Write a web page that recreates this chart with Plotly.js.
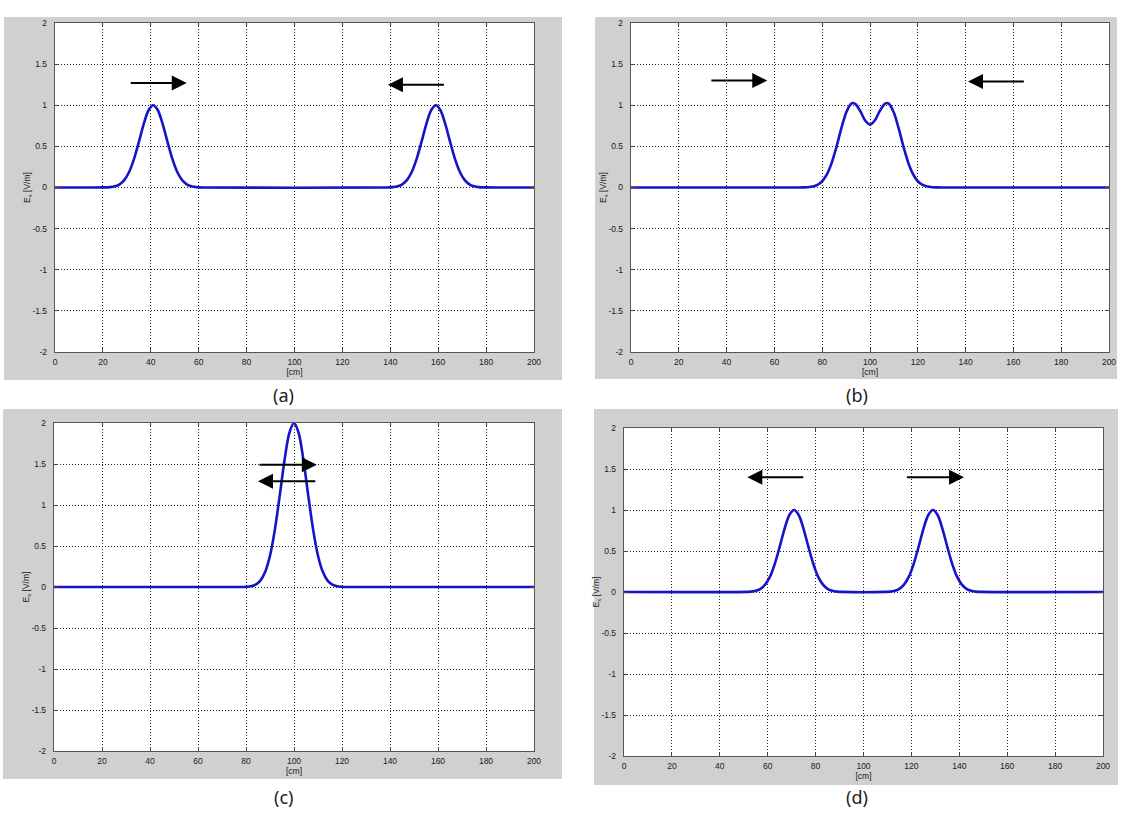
<!DOCTYPE html>
<html>
<head>
<meta charset="utf-8">
<script src="https://cdn.plot.ly/plotly-3.0.1.min.js"></script>
<style>html,body{margin:0;padding:0;background:#fff;}#chart{width:1123px;height:814px;}</style>
</head>
<body>
<div id="chart"></div>
<script>
// ---------- data ----------
var panelLabels = ["(a)", "(b)", "(c)", "(d)"];
var yTitle = "E<sub>x</sub> [V/m]";
var xTitle = "[cm]";
var xTickVals = [0, 20, 40, 60, 80, 100, 120, 140, 160, 180, 200];
var xTickText = ["0", "20", "40", "60", "80", "100", "120", "140", "160", "180", "200"];
var yTickVals = [-2, -1.5, -1, -0.5, 0, 0.5, 1, 1.5, 2];
var yTickText = ["-2", "-1.5", "-1", "-0.5", "0", "0.5", "1", "1.5", "2"];

// (a) two pulses moving toward each other
var xA = [0, 21, 23, 25, 27, 29, 31, 33, 35, 37, 39, 41, 43, 45, 47, 49, 51, 53, 55, 57, 59, 61,
          139, 141, 143, 145, 147, 149, 151, 153, 155, 157, 159, 161, 163, 165, 167, 169, 171, 173, 175, 177, 179, 200];
var yA = [0, 0.001, 0.005, 0.015, 0.039, 0.093, 0.191, 0.347, 0.551, 0.768, 0.936, 1, 0.936, 0.768, 0.551, 0.347, 0.191, 0.093, 0.039, 0.015, 0.005, 0.001,
          0.001, 0.005, 0.015, 0.039, 0.093, 0.191, 0.347, 0.551, 0.768, 0.936, 1, 0.936, 0.768, 0.551, 0.347, 0.191, 0.093, 0.039, 0.015, 0.005, 0.001, 0];

// (b) pulses overlapping
var xB = [0, 70, 72, 74, 76, 78, 80, 82, 84, 86, 88, 90, 92, 93, 94, 96, 98, 100, 102, 104, 106, 107, 108,
          110, 112, 114, 116, 118, 120, 122, 124, 126, 128, 130, 200];
var yB = [0, 0, 0.001, 0.0035, 0.011, 0.031, 0.076, 0.162, 0.303, 0.497, 0.718, 0.908, 1.015, 1.027, 1.012, 0.925, 0.815, 0.765, 0.815, 0.925, 1.012, 1.027, 1.015,
          0.908, 0.718, 0.497, 0.303, 0.162, 0.076, 0.031, 0.011, 0.0035, 0.001, 0, 0];

// (c) pulses coincide
var xC = [0, 78, 80, 82, 84, 86, 88, 90, 92, 94, 96, 98, 100, 102, 104, 106, 108, 110, 112, 114, 116, 118, 120, 122, 200];
var yC = [0, 0, 0.003, 0.009, 0.029, 0.078, 0.185, 0.382, 0.694, 1.102, 1.536, 1.872, 2, 1.872, 1.536, 1.102, 0.694, 0.382, 0.185, 0.078, 0.029, 0.009, 0.003, 0, 0];

// (d) pulses moving apart
var xD = [0, 51, 53, 55, 57, 59, 61, 63, 65, 67, 69, 71, 73, 75, 77, 79, 81, 83, 85, 87, 89, 91,
          109, 111, 113, 115, 117, 119, 121, 123, 125, 127, 129, 131, 133, 135, 137, 139, 141, 143, 145, 147, 149, 200];
var yD = [0, 0.001, 0.005, 0.015, 0.039, 0.093, 0.191, 0.347, 0.551, 0.768, 0.936, 1, 0.936, 0.768, 0.551, 0.347, 0.191, 0.093, 0.039, 0.015, 0.005, 0.001,
          0.001, 0.005, 0.015, 0.039, 0.093, 0.191, 0.347, 0.551, 0.768, 0.936, 1, 0.936, 0.768, 0.551, 0.347, 0.191, 0.093, 0.039, 0.015, 0.005, 0.001, 0];

// arrows: [tailX, tailY, headX, headY] in data units
var arrowsA = [[31, 1.27, 55, 1.27], [163, 1.25, 139, 1.25]];
var arrowsB = [[33, 1.30, 57, 1.30], [165, 1.29, 141, 1.29]];
var arrowsC = [[85, 1.49, 109.5, 1.49], [109.5, 1.29, 85, 1.29]];
var arrowsD = [[75.5, 1.40, 51.5, 1.40], [117.5, 1.40, 142, 1.40]];

// ---------- layout geometry (pixels) ----------
var W = 1123, H = 814;
function px(x) { return x / W; }
function py(y) { return 1 - y / H; }

var plots = [ // plot area [left, top, right, bottom]
  [55, 23, 534, 352],
  [631, 23, 1109, 352],
  [54, 423, 534, 751],
  [624, 428, 1103, 756]
];
var frames = [ // gray figure frames
  [4, 17, 562, 380],
  [595, 17, 1117, 379],
  [3, 409, 562, 779],
  [594, 409, 1118, 785]
];
var captionPos = [[283, 395], [857, 395], [283, 797], [857, 797]];

var xs = [xA, xB, xC, xD], ys = [yA, yB, yC, yD];
var arrows = [arrowsA, arrowsB, arrowsC, arrowsD];

var traces = [];
var layout = {
  width: W, height: H,
  margin: {l: 0, r: 0, t: 0, b: 0, pad: 0},
  paper_bgcolor: "#ffffff",
  plot_bgcolor: "#ffffff",
  showlegend: false,
  font: {family: "Liberation Sans, Arial, sans-serif", size: 9, color: "#222"},
  shapes: [],
  annotations: []
};

var tickFont = {family: "Liberation Sans, Arial, sans-serif", size: 8.5, color: "#1a1a1a"};
var titleFont = {family: "Liberation Sans, Arial, sans-serif", size: 8.5, color: "#1a1a1a"};

for (var i = 0; i < 4; i++) {
  var n = i + 1;
  var xa = "xaxis" + (n === 1 ? "" : n), ya = "yaxis" + (n === 1 ? "" : n);
  var xr = "x" + (n === 1 ? "" : n), yr = "y" + (n === 1 ? "" : n);
  var p = plots[i], f = frames[i];

  traces.push({
    x: xs[i], y: ys[i], xaxis: xr, yaxis: yr, type: "scatter", mode: "lines",
    line: {color: "#1414c8", width: 2.6, shape: "spline", smoothing: 0.8},
    hoverinfo: "skip"
  });

  layout[xa] = {
    domain: [px(p[0]), px(p[2])], anchor: yr, range: [0, 200],
    tickmode: "array", tickvals: xTickVals, ticktext: xTickText,
    ticks: "inside", ticklen: 4, tickcolor: "#444", tickwidth: 1,
    showline: true, linecolor: "#555", linewidth: 1.2, mirror: "ticks",
    showgrid: true, gridcolor: "#222", gridwidth: 1, griddash: "1px,2px",
    zeroline: false, tickfont: tickFont, ticklabelstandoff: 2,
    title: {text: xTitle, font: titleFont, standoff: 0},
    fixedrange: true
  };
  layout[ya] = {
    domain: [py(p[3]), py(p[1])], anchor: xr, range: [-2, 2],
    tickmode: "array", tickvals: yTickVals, ticktext: yTickText,
    ticks: "inside", ticklen: 4, tickcolor: "#444", tickwidth: 1,
    showline: true, linecolor: "#555", linewidth: 1.2, mirror: "ticks",
    showgrid: true, gridcolor: "#222", gridwidth: 1, griddash: "1px,2px",
    zeroline: false, tickfont: tickFont, ticklabelstandoff: 5,
    title: {text: yTitle, font: titleFont, standoff: 0},
    fixedrange: true
  };

  layout.shapes.push({
    type: "rect", xref: "paper", yref: "paper", layer: "below",
    x0: px(f[0]), x1: px(f[2]), y0: py(f[3]), y1: py(f[1]),
    fillcolor: "#d0d0d0", line: {width: 0}
  });
  layout.shapes.push({
    type: "rect", xref: "paper", yref: "paper", layer: "below",
    x0: px(p[0]), x1: px(p[2]), y0: py(p[3]), y1: py(p[1]),
    fillcolor: "#ffffff", line: {width: 0}
  });

  layout.annotations.push({
    xref: "paper", yref: "paper", x: px(captionPos[i][0]), y: py(captionPos[i][1]),
    xanchor: "center", yanchor: "middle", showarrow: false,
    text: panelLabels[i], font: {family: "Noto Sans, Open Sans, sans-serif", size: 18, color: "#222"}
  });

  arrows[i].forEach(function (a) {
    layout.annotations.push({
      xref: xr, yref: yr, axref: xr, ayref: yr,
      x: a[2], y: a[3], ax: a[0], ay: a[1],
      text: "", showarrow: true, arrowhead: 2, arrowsize: 1.5, arrowwidth: 2, arrowcolor: "#000"
    });
  });
}

Plotly.newPlot("chart", traces, layout, {displayModeBar: false, staticPlot: true});
</script>
</body>
</html>
